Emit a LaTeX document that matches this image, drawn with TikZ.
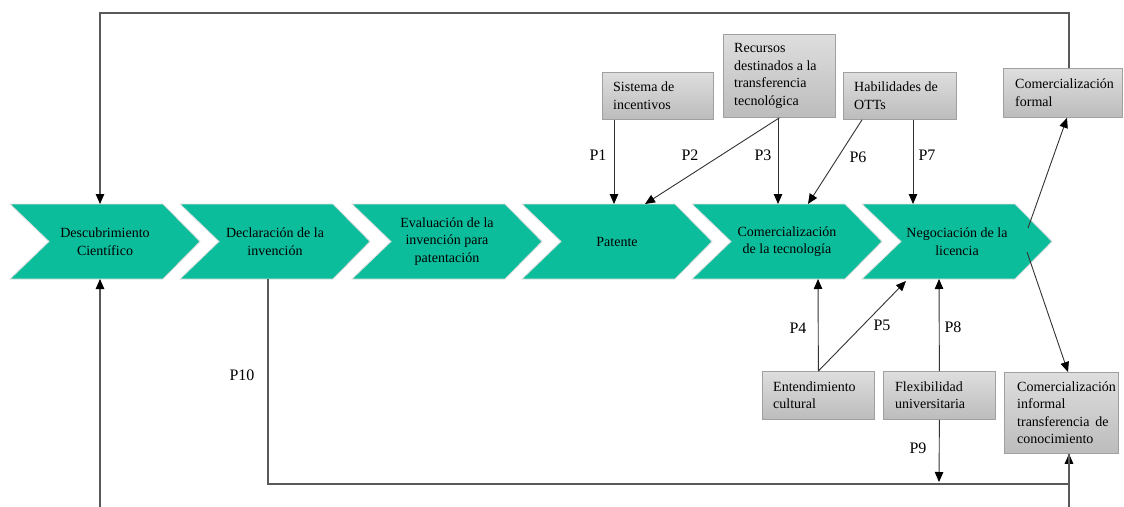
\documentclass[tikz,border=0pt]{standalone}
\usepackage{fontspec}
\setmainfont{Liberation Serif}
\usetikzlibrary{arrows.meta,calc}
\definecolor{chev}{RGB}{12,189,156}
\definecolor{ln}{RGB}{50,50,50}
\definecolor{boxtop}{RGB}{222,222,222}
\definecolor{boxbot}{RGB}{188,188,188}
\definecolor{boxline}{RGB}{160,160,160}

% chevron outline: #1 = left x of the top edge
\newcommand{\chevronpath}[1]{%
  \path[chevronfill] (#1,204) -- ++(153,0) -- ++(37,37.5) -- ++(-37,37.5)
    -- ++(-153,0) -- ++(39,-37.5) -- cycle;}

\begin{document}
\begin{tikzpicture}[x=1pt,y=-1pt,
  every node/.style={font=\fontsize{14}{17.5}\selectfont, inner sep=0pt},
  chevronfill/.style={fill=chev, draw=gray!25, line width=0.8pt},
  stage/.style={align=center},
  factor/.style={draw=boxline, line width=0.8pt, top color=boxtop, bottom color=boxbot,
                 anchor=north west, inner sep=0pt},
  ftext/.style={anchor=west, align=left},
  conn/.style={draw=ln, line width=0.9pt, -{Triangle[length=10pt,width=8.5pt,color=black]}},
  loopline/.style={draw=black!65, line width=1.1pt, -{Triangle[length=10pt,width=8.5pt,color=black]}},
  plabel/.style={font=\fontsize{16}{18}\selectfont}]

\useasboundingbox (0,0) rectangle (1124,506);
\clip (0,0) rectangle (1124,506);

% ---- process chevrons ----
\chevronpath{10}
\chevronpath{180}
\chevronpath{352}
\chevronpath{522}
\chevronpath{692}
\chevronpath{862}

\node[stage] (c1) at (105,241.5) {Descubrimiento\\Científico};
\node[stage] (c2) at (275,241.5) {Declaración de la\\invención};
\node[stage] (c3) at (447,241.5) {Evaluación de la\\invención para\\patentación};
\node[stage] (c4) at (617,241.5) {Patente};
\node[stage] (c5) at (787,241.5) {Comercialización\\de la tecnología};
\node[stage] (c6) at (957,241.5) {Negociación de la\\licencia};

% attachment points on the chevron edges
\coordinate (c1top) at (100,204);
\coordinate (c1bot) at (100,279);
\coordinate (c2bot) at (268,279);
\coordinate (c4topA) at (614,204);
\coordinate (c4topB) at (645,204);
\coordinate (c5topA) at (778,204);
\coordinate (c5topB) at (808,204);
\coordinate (c5bot) at (818,279);
\coordinate (c6topA) at (913,204);
\coordinate (c6botA) at (906,281);
\coordinate (c6botB) at (939,279);
\coordinate (c6outA) at (1028,228);
\coordinate (c6outB) at (1027,252);

% ---- factor boxes ----
\node[factor, minimum width=111, minimum height=47] (inc) at (602,72) {};
\node[ftext] at ($(inc.west)+(11,0)$) {Sistema de\\incentivos};

\node[factor, minimum width=112, minimum height=83] (rec) at (723,34) {};
\node[ftext] at ($(rec.west)+(11,0)$) {Recursos\\destinados a la\\transferencia\\tecnológica};

\node[factor, minimum width=113, minimum height=47] (hab) at (843,72) {};
\node[ftext] at ($(hab.west)+(11,0)$) {Habilidades de\\OTTs};

\node[factor, minimum width=119, minimum height=49] (for) at (1003,68) {};
\node[ftext] at ($(for.west)+(12,0)$) {Comercialización\\formal};

\node[factor, minimum width=112, minimum height=48] (ent) at (762,371) {};
\node[ftext] at ($(ent.west)+(11,0)$) {Entendimiento\\cultural};

\node[factor, minimum width=112, minimum height=48] (flex) at (883,371) {};
\node[ftext] at ($(flex.west)+(12,0)$) {Flexibilidad\\universitaria};

\node[factor, minimum width=114, minimum height=81] (inf) at (1004,372) {};
\node[ftext] at ($(inf.west)+(13,0)$) {Comercialización\\informal\\transferencia\, de\\conocimiento};

% ---- propositions ----
\draw[conn] (inc.south -| c4topA) -- (c4topA);
\draw[conn] (rec.south) -- (c4topB);
\draw[conn] (rec.south -| c5topA) -- (c5topA);
\draw[conn] ($(hab.south west)+(19,0)$) -- (c5topB);
\draw[conn] (hab.south -| c6topA) -- (c6topA);
\draw[conn] (ent.north) -- (c5bot);
\draw[conn] (ent.north) -- (c6botA);
\draw[conn] (flex.north) -- (c6botB);
\coordinate (p9end) at (939,482);
\draw[conn] (flex.south) -- (p9end);
\draw[conn] (c6outA) -- ($(for.south west)+(64,0)$);
\draw[conn] (c6outB) -- ($(inf.north west)+(64,0)$);

\node[plabel] (p1) at (598,155) {P1};
\node[plabel] (p2) at (690,155) {P2};
\node[plabel] (p3) at (763,155) {P3};
\node[plabel] (p6) at (858,157) {P6};
\node[plabel] (p7) at (927,155) {P7};
\node[plabel] (p4) at (798,328) {P4};
\node[plabel] (p5) at (882,325) {P5};
\node[plabel] (p8) at (953,327) {P8};
\node[plabel] (p9) at (918,448) {P9};
\node[plabel] (p10) at (242,375) {P10};

% ---- feedback loops ----
\coordinate (topline) at (0,13);
\coordinate (botline) at (0,484);
\coordinate (outline) at (0,530);
\coordinate (forA) at ($(for.north west)+(66,0)$);
\coordinate (infB) at ($(inf.south west)+(65,0)$);

\draw[loopline] (forA) -- (forA |- topline) -- (c1top |- topline) -- (c1top);
\draw[loopline] (c2bot) -- (c2bot |- botline) -- (infB |- botline) -- (infB);
\draw[loopline] (infB) -- (infB |- outline) -- (c1bot |- outline) -- (c1bot);
\end{tikzpicture}
\end{document}
